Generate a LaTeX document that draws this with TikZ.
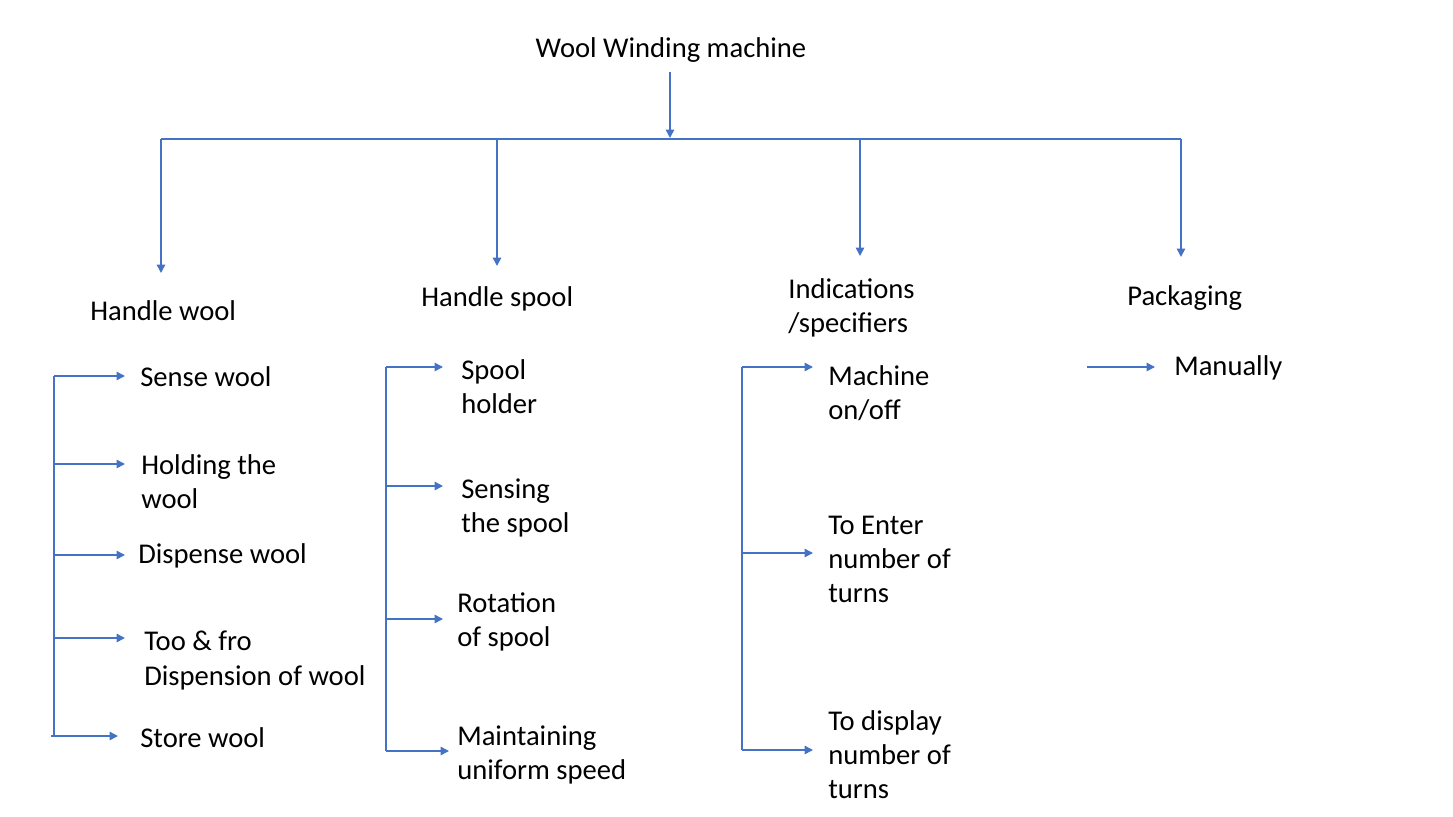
\documentclass[tikz,border=0pt]{standalone}
\usepackage{fontspec}
\setmainfont{Carlito}
\usetikzlibrary{arrows.meta}
\definecolor{lineblue}{HTML}{4472C4}
\begin{document}
\begin{tikzpicture}[x=0.6606pt,y=-0.6606pt,
  lbl/.style={font=\fontsize{18.9}{22.5}\selectfont, inner sep=0pt, align=left, anchor=west},
  conn/.style={draw=lineblue, line width=1pt},
  arr/.style={conn, -{Triangle[length=5.5pt,width=5.5pt]}}]
\useasboundingbox (0,0) rectangle (1453,817);
% texts
\node[lbl, anchor=center] (title) at (671,50.5) {Wool Winding machine};
\node[lbl] (hw) at (90,310.5) {Handle wool};
\node[lbl] (hs) at (421,298.5) {Handle spool};
\node[lbl] (ind) at (788,308) {Indications\\/specifiers};
\node[lbl] (pk) at (1127,298.5) {Packaging};
\node[lbl] (man) at (1174,367.5) {Manually};
\node[lbl] (a1) at (140,376.5) {Sense wool};
\node[lbl] (a2) at (141,482) {Holding the\\wool};
\node[lbl] (a3) at (138,555.5) {Dispense wool};
\node[lbl] (a4) at (144,660.5) {Too \& fro\\Dispension of wool};
\node[lbl] (a5) at (140,737.5) {Store wool};
\node[lbl] (b1) at (461,387) {Spool\\holder};
\node[lbl] (b2) at (461,507.5) {Sensing\\the spool};
\node[lbl] (b3) at (457,621.5) {Rotation\\of spool};
\node[lbl] (b4) at (457,754.5) {Maintaining\\uniform speed};
\node[lbl] (c1) at (828,393) {Machine\\on/off};
\node[lbl] (c2) at (828,559) {To Enter\\number of\\turns};
\node[lbl] (c3) at (828,755) {To display\\number of\\turns};
% coordinates
\coordinate (tstart) at (670,72);
\coordinate (bus) at (670,138);
\coordinate (busL) at (161,139);
\coordinate (busR) at (1181,139);
\coordinate (v1) at (161,139); \coordinate (e1) at (161,273);
\coordinate (v2) at (497,139); \coordinate (e2) at (497,266);
\coordinate (v3) at (860,139); \coordinate (e3) at (860,256);
\coordinate (v4) at (1181,139); \coordinate (e4) at (1181,257);
% main arrow and bus
\draw[arr] (tstart) -- (bus);
\draw[conn] (busL) -- (busR);
\draw[arr] (v1) -- (e1);
\draw[arr] (v2) -- (e2);
\draw[arr] (v3) -- (e3);
\draw[arr] (v4) -- (e4);
% handle wool branch
\coordinate (hwtop) at (54,376);
\coordinate (hwbot) at (54,736);
\draw[conn] (hwtop) -- (hwbot);
\coordinate (ha1) at (125,376);
\coordinate (hb2) at (54,464); \coordinate (ha2) at (125,464);
\coordinate (hb3) at (54,555); \coordinate (ha3) at (125,555);
\coordinate (hb4) at (54,638); \coordinate (ha4) at (125,638);
\coordinate (hb5) at (51,736); \coordinate (ha5) at (118,736);
\draw[arr] (hwtop) -- (ha1);
\draw[arr] (hb2) -- (ha2);
\draw[arr] (hb3) -- (ha3);
\draw[arr] (hb4) -- (ha4);
\draw[arr] (hb5) -- (ha5);
% handle spool branch
\coordinate (hstop) at (386,367);
\coordinate (hsbot) at (386,751);
\draw[conn] (hstop) -- (hsbot);
\coordinate (sa1) at (443,367);
\coordinate (sb2) at (386,486); \coordinate (sa2) at (443,486);
\coordinate (sb3) at (386,619); \coordinate (sa3) at (443,619);
\coordinate (sa4) at (449,751);
\draw[arr] (hstop) -- (sa1);
\draw[arr] (sb2) -- (sa2);
\draw[arr] (sb3) -- (sa3);
\draw[arr] (hsbot) -- (sa4);
% indications branch
\coordinate (ictop) at (742,367);
\coordinate (icbot) at (742,750);
\draw[conn] (ictop) -- (icbot);
\coordinate (ia1) at (813,367);
\coordinate (ib2) at (742,553); \coordinate (ia2) at (813,553);
\coordinate (ia3) at (813,750);
\draw[arr] (ictop) -- (ia1);
\draw[arr] (ib2) -- (ia2);
\draw[arr] (icbot) -- (ia3);
% packaging
\coordinate (pks) at (1087,367);
\coordinate (pke) at (1155,367);
\draw[arr] (pks) -- (pke);
\end{tikzpicture}
\end{document}
